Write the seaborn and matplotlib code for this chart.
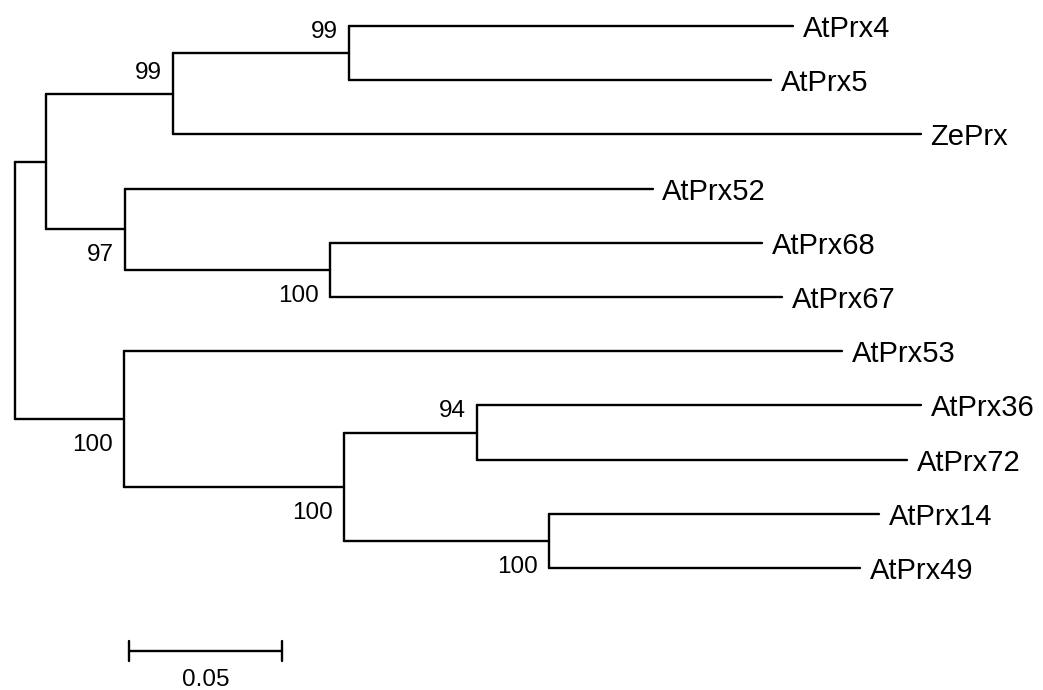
import matplotlib
matplotlib.use("Agg")
import matplotlib.pyplot as plt
import numpy as np
import pandas as pd
import seaborn as sns

# tree: node, parent, branch length (substitutions/site)
nodes = ["root", "A", "B", "C", "AtPrx4", "AtPrx5", "ZePrx",
         "D", "AtPrx52", "E", "AtPrx68", "AtPrx67",
         "F", "AtPrx53", "G", "H", "AtPrx36", "AtPrx72", "I", "AtPrx14", "AtPrx49"]
parents = [None, "root", "A", "B", "C", "C", "B",
           "A", "D", "D", "E", "E",
           "root", "F", "F", "G", "H", "H", "G", "I", "I"]
branch_len = [0.0, 0.0101, 0.0415, 0.0575, 0.1451, 0.1379, 0.2444,
              0.0258, 0.1725, 0.0670, 0.1412, 0.1477,
              0.0356, 0.2346, 0.0719, 0.0435, 0.1451, 0.1405, 0.0670, 0.1078, 0.1016]
bootstrap = {"B": 99, "C": 99, "D": 97, "E": 100, "F": 100, "G": 100, "H": 94, "I": 100}
scale_len = 0.05
scale_label = "0.05"

# layout
PX_PER_UNIT = 3060.0
ROOT_PX = 15
TOP_PX, STEP_PX = 26, 54.2
W, H = 1043, 690
LW = 1.7

children = {n: [] for n in nodes}
for n, p in zip(nodes, parents):
    if p is not None:
        children[p].append(n)
blen = dict(zip(nodes, branch_len))
par = dict(zip(nodes, parents))

xpos, ypos = {}, {}
leaf_counter = [0]


def place(n, x0):
    xpos[n] = x0 + blen[n]
    if not children[n]:
        ypos[n] = leaf_counter[0]
        leaf_counter[0] += 1
    else:
        for c in children[n]:
            place(c, xpos[n])
        ys = [ypos[c] for c in children[n]]
        ypos[n] = (min(ys) + max(ys)) / 2


place("root", 0.0)

rows = []
seg = 0
for n in nodes:
    p = par[n]
    if p is not None:
        rows += [(seg, xpos[p], ypos[n]), (seg, xpos[n], ypos[n])]
        seg += 1
    if children[n]:
        ys = [ypos[c] for c in children[n]]
        rows += [(seg, xpos[n], min(ys)), (seg, xpos[n], max(ys))]
        seg += 1
segs = pd.DataFrame(rows, columns=["seg", "x", "y"])

sns.set_style("white")
plt.rcParams["font.family"] = ["Liberation Sans", "DejaVu Sans"]
plt.rcParams["text.color"] = "black"

fig = plt.figure(figsize=(W / 100, H / 100), dpi=100)
ax = fig.add_axes([0, 0, 1, 1])
sns.lineplot(data=segs, x="x", y="y", units="seg", estimator=None, sort=False,
             color="black", linewidth=LW, legend=False, ax=ax)

ax.set_xlim(-ROOT_PX / PX_PER_UNIT, (W - ROOT_PX) / PX_PER_UNIT)
ax.set_ylim((H - TOP_PX) / STEP_PX, -TOP_PX / STEP_PX)
ax.axis("off")

# leaf names
for n in nodes:
    if not children[n]:
        ax.annotate(n, (xpos[n], ypos[n]), xytext=(7, 0), textcoords="offset points",
                    ha="left", va="center_baseline", fontsize=21, color="black")

# bootstrap values: above the node if it is an upper child, below if lower
for n, val in bootstrap.items():
    sib = children[par[n]]
    dy = 17 if n == sib[0] else -17
    ax.annotate(str(val), (xpos[n], ypos[n]), xytext=(-8, dy), textcoords="offset points",
                ha="right", va="center_baseline", fontsize=17.5, color="black")

# scale bar
sb_x0 = (129 - ROOT_PX) / PX_PER_UNIT
sb_y = (651 - TOP_PX) / STEP_PX
tick = 10 / STEP_PX
ax.plot([sb_x0, sb_x0 + scale_len], [sb_y, sb_y], color="black", lw=LW)
ax.plot([sb_x0, sb_x0], [sb_y - tick, sb_y + tick], color="black", lw=LW)
ax.plot([sb_x0 + scale_len, sb_x0 + scale_len], [sb_y - tick, sb_y + tick], color="black", lw=LW)
ax.annotate(scale_label, (sb_x0 + scale_len / 2, sb_y), xytext=(0, -19), textcoords="offset points",
            ha="center", va="center_baseline", fontsize=17.5, color="black")

fig.savefig("out.png", dpi=100, facecolor="white")
